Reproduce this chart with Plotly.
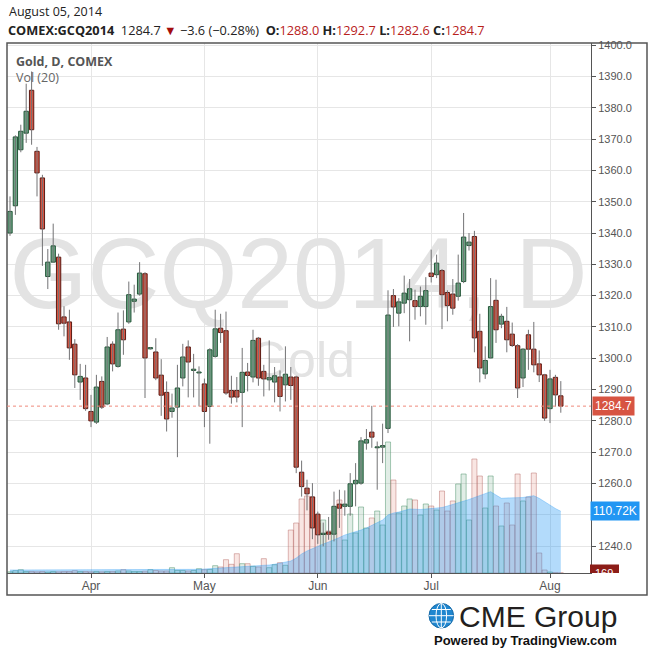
import plotly.graph_objects as go

# trading days shown (COMEX, Mar 11 - Aug 5 2014)
MAR = [11, 12, 13, 14, 17, 18, 19, 20, 21, 24, 25, 26, 27, 28, 31]
APR = [1, 2, 3, 4, 7, 8, 9, 10, 11, 14, 15, 16, 17, 21, 22, 23, 24, 25, 28, 29, 30]
MAY = [1, 2, 5, 6, 7, 8, 9, 12, 13, 14, 15, 16, 19, 20, 21, 22, 23, 27, 28, 29, 30]
JUN = [2, 3, 4, 5, 6, 9, 10, 11, 12, 13, 16, 17, 18, 19, 20, 23, 24, 25, 26, 27, 30]
JUL = [1, 2, 3, 7, 8, 9, 10, 11, 14, 15, 16, 17, 18, 21, 22, 23, 24, 25, 28, 29, 30, 31]
AUG = [1, 4, 5]

dates = (["2014-03-%02d" % d for d in MAR] + ["2014-04-%02d" % d for d in APR]
         + ["2014-05-%02d" % d for d in MAY] + ["2014-06-%02d" % d for d in JUN]
         + ["2014-07-%02d" % d for d in JUL] + ["2014-08-%02d" % d for d in AUG])

month_ticks = ["2014-04-01", "2014-05-01", "2014-06-02", "2014-07-01", "2014-08-01"]
month_labels = ["Apr", "May", "Jun", "Jul", "Aug"]

# price ticks; the 1250 label sits under the volume tag
price_ticks = [1240, 1250, 1260, 1270, 1280, 1290, 1300, 1310, 1320, 1330,
               1340, 1350, 1360, 1370, 1380, 1390, 1400]
price_labels = ["" if p == 1250 else f"{p:.1f}" for p in price_ticks]

opens = [1340.0, 1348.7, 1366.6, 1371.9, 1385.6, 1366.1, 1357.6, 1326.1, 1330.7, 1332.3,
         1313.2, 1311.6, 1304.5, 1292.4, 1293.7, 1283.0, 1279.6, 1292.6, 1285.4, 1304.5,
         1297.4, 1309.3, 1311.6, 1318.2, 1320.5, 1327.0, 1303.0, 1302.0, 1294.6, 1289.1,
         1283.0, 1284.4, 1293.7, 1303.6, 1296.1, 1295.3, 1291.8, 1284.6, 1300.6, 1309.6,
         1308.8, 1289.7, 1289.7, 1289.1, 1295.6, 1294.0, 1306.4, 1295.8, 1293.1, 1292.4,
         1294.0, 1291.5, 1294.0, 1294.0, 1263.6, 1258.5, 1255.7, 1250.2, 1243.7, 1244.5,
         1243.8, 1253.4, 1252.7, 1252.7, 1259.9, 1260.1, 1272.9, 1276.4, 1271.4, 1271.6,
         1277.6, 1320.0, 1314.4, 1317.6, 1318.7, 1318.4, 1316.5, 1316.5, 1327.2, 1326.7,
         1328.0, 1321.0, 1320.5, 1319.8, 1324.5, 1336.0, 1338.9, 1308.6, 1295.0, 1300.1,
         1318.5, 1310.9, 1311.8, 1307.7, 1304.0, 1293.7, 1307.5, 1302.9, 1298.2, 1294.7,
         1283.9, 1293.9, 1288.0]
highs = [1351.7, 1371.2, 1374.6, 1387.7, 1391.6, 1367.5, 1358.6, 1334.9, 1343.0, 1333.4,
         1316.6, 1315.5, 1306.1, 1298.2, 1297.9, 1288.3, 1294.7, 1294.2, 1306.8, 1305.4,
         1314.6, 1315.3, 1324.5, 1323.5, 1330.7, 1327.5, 1303.6, 1306.4, 1299.7, 1292.6,
         1288.7, 1297.9, 1304.6, 1305.7, 1301.4, 1297.4, 1293.5, 1303.2, 1315.5, 1314.2,
         1314.9, 1294.4, 1294.0, 1303.3, 1298.5, 1309.1, 1306.8, 1297.9, 1305.7, 1297.2,
         1296.1, 1303.8, 1297.2, 1294.4, 1267.3, 1261.2, 1260.1, 1251.0, 1247.5, 1249.3,
         1257.4, 1258.0, 1257.8, 1263.3, 1266.5, 1274.8, 1277.4, 1284.8, 1273.4, 1279.1,
         1321.7, 1322.1, 1319.2, 1326.4, 1325.3, 1321.9, 1322.9, 1325.9, 1334.7, 1333.1,
         1328.5, 1321.7, 1325.3, 1333.1, 1346.4, 1340.0, 1340.7, 1314.2, 1303.8, 1325.6,
         1325.1, 1314.2, 1316.4, 1311.4, 1304.5, 1303.2, 1309.1, 1311.6, 1302.5, 1295.0,
         1296.3, 1294.7, 1292.7]
lows = [1339.1, 1345.8, 1365.8, 1368.8, 1368.2, 1351.7, 1329.5, 1322.1, 1330.5, 1309.1,
        1307.0, 1299.5, 1290.5, 1286.7, 1283.2, 1278.0, 1279.0, 1283.8, 1285.0, 1295.8,
        1297.0, 1301.1, 1311.0, 1314.6, 1320.0, 1287.3, 1302.8, 1293.0, 1281.6, 1276.6,
        1281.0, 1268.4, 1291.0, 1287.5, 1287.5, 1284.6, 1278.0, 1272.7, 1300.2, 1304.9,
        1288.3, 1285.5, 1285.9, 1278.0, 1289.4, 1292.3, 1291.2, 1287.8, 1289.7, 1285.9,
        1283.0, 1286.2, 1286.7, 1263.3, 1255.8, 1251.4, 1242.2, 1240.7, 1239.9, 1242.0,
        1241.5, 1245.8, 1249.7, 1249.7, 1252.7, 1259.6, 1270.8, 1271.4, 1258.0, 1266.5,
        1276.1, 1310.0, 1310.2, 1314.4, 1305.4, 1312.3, 1313.4, 1310.7, 1324.2, 1325.6,
        1309.3, 1311.8, 1313.9, 1318.4, 1324.0, 1334.4, 1301.9, 1292.3, 1293.4, 1300.0,
        1304.9, 1309.6, 1301.9, 1303.6, 1287.3, 1290.8, 1296.3, 1295.5, 1292.4, 1280.0,
        1279.3, 1284.6, 1282.6]
closes = [1346.9, 1370.7, 1372.5, 1378.9, 1373.0, 1359.2, 1341.3, 1330.7, 1335.9, 1311.0,
          1311.2, 1303.3, 1294.7, 1294.2, 1283.9, 1280.0, 1290.8, 1284.4, 1303.6, 1298.2,
          1309.1, 1305.9, 1320.3, 1318.9, 1327.2, 1300.1, 1303.4, 1293.7, 1288.2, 1280.6,
          1284.1, 1290.5, 1300.4, 1298.8, 1296.5, 1295.6, 1283.0, 1302.7, 1309.4, 1308.2,
          1288.9, 1287.6, 1287.6, 1295.5, 1294.5, 1305.7, 1293.7, 1293.4, 1293.8, 1294.4,
          1287.8, 1294.9, 1291.3, 1265.2, 1259.0, 1256.7, 1245.8, 1243.6, 1244.1, 1243.8,
          1252.7, 1252.1, 1253.4, 1259.9, 1261.0, 1273.6, 1274.0, 1274.8, 1271.7, 1272.1,
          1313.8, 1316.4, 1318.0, 1320.8, 1322.2, 1316.5, 1319.8, 1321.6, 1326.1, 1330.4,
          1320.3, 1316.8, 1316.0, 1324.0, 1338.7, 1337.1, 1306.5, 1296.9, 1299.3, 1316.5,
          1309.1, 1313.4, 1305.9, 1304.1, 1290.5, 1302.9, 1302.9, 1297.9, 1294.7, 1280.9,
          1293.4, 1288.3, 1284.7]

volumes = [2300, 4100, 5900, 2700, 2700, 2200, 2700, 1800, 2700, 2200,
           2700, 2700, 4100, 2700, 2700, 2200, 2700, 2200, 2700, 2700,
           3600, 5900, 3600, 2700, 2700, 3200, 5900, 4500, 3600, 3600,
           9500, 4500, 4500, 3600, 4500, 7700, 5900, 6300, 13100, 10800,
           23900, 15600, 34600, 16700, 16700, 12000, 10800, 25700, 9500, 14900,
           18500, 13800, 77100, 89700, 132800, 138100, 136300, 89700, 95100, 75400,
           71800, 131000, 59200, 105800, 71800, 118400, 80700, 98700, 111200, 86100,
           235000, 166800, 107600, 120200, 132800, 131000, 104000, 123800, 120200, 113000,
           147100, 111200, 129200, 159700, 177600, 95100, 204500, 174000, 116600, 174000,
           120200, 84300, 125600, 86100, 177600, 129200, 136300, 179400, 35900, 5400,
           1800, 500, 169]
vol_ma = [5400, 5400, 5400, 5400, 5400, 5400, 5400, 5400, 5400, 5400,
          5700, 5700, 5700, 5700, 5700, 5700, 5700, 5700, 5700, 5700,
          6100, 6100, 6100, 6100, 6100, 6100, 6100, 6100, 6100, 6100,
          6600, 6600, 6600, 6600, 6600, 6600, 7200, 7700, 8400, 9200,
          9900, 10400, 11100, 11700, 12200, 12600, 13100, 13800, 14400, 15800,
          17400, 18800, 21500, 26900, 34100, 39500, 44000, 48400, 52000, 55600,
          59200, 63700, 68200, 70900, 73600, 77100, 80700, 85200, 89700, 95100,
          104100, 107600, 109400, 112100, 114800, 114500, 113900, 114800, 116100, 116600,
          117500, 120200, 122900, 125600, 128300, 131900, 135500, 139000, 143000, 145900,
          139900, 134000, 134600, 134600, 135100, 135500, 137200, 138700, 134000, 127400,
          122000, 115700, 110720]

UP_FILL, UP_LINE = "#6ba583", "#225437"
DOWN_FILL, DOWN_LINE = "#d75442", "#5b1a13"
WICK = "#737375"
GRID = "#e6e6e6"
AXIS = "#555555"
BASE_FONT = "Liberation Sans, Arial, sans-serif"
HEAD_FONT = "Open Sans, sans-serif"

# plot box in pixels
L, R, T, B = 7, 591, 43, 573


def px_x(x):
    return (x - L) / (R - L)


def px_y(y):
    return (B - y) / (B - T)


up = [c >= o for o, c in zip(opens, closes)]
body_lo = [min(o, c) for o, c in zip(opens, closes)]
body_h = [max(abs(c - o), 0.3) for o, c in zip(opens, closes)]

wick_x, wick_y = [], []
for d, h, l in zip(dates, highs, lows):
    wick_x += [d, d, None]
    wick_y += [l, h, None]

fig = go.Figure()

# watermark (main hidden axes, drawn under everything)
fig.add_trace(go.Scatter(
    x=[px_x(298.5), px_x(302)], y=[px_y(283), px_y(364)], mode="text",
    text=["GCQ2014, D", "Gold"],
    textfont=dict(family=BASE_FONT, size=[100, 50], color="#e3e3e3"),
    hoverinfo="skip", xaxis="x", yaxis="y",
))

fig.add_trace(go.Bar(
    x=dates, y=volumes, xaxis="x2", yaxis="y2", width=0.94,
    marker=dict(
        color=["rgba(107,165,131,0.2)" if u else "rgba(215,84,66,0.15)" for u in up],
        line=dict(color=["rgba(80,150,110,0.5)" if u else "rgba(180,100,95,0.45)" for u in up], width=1),
    ),
    hoverinfo="skip",
))
fig.add_trace(go.Scatter(
    x=dates, y=vol_ma, xaxis="x2", yaxis="y2", mode="lines",
    line=dict(color="rgba(33,150,243,0.3)", width=1),
    fill="tozeroy", fillcolor="rgba(33,150,243,0.34)", hoverinfo="skip",
))

fig.add_trace(go.Scatter(
    x=wick_x, y=wick_y, xaxis="x2", yaxis="y3", mode="lines",
    line=dict(color=WICK, width=1), hoverinfo="skip",
))
fig.add_trace(go.Bar(
    x=dates, y=body_h, base=body_lo, xaxis="x2", yaxis="y3", width=0.8,
    marker=dict(
        color=[UP_FILL if u else DOWN_FILL for u in up],
        line=dict(color=[UP_LINE if u else DOWN_LINE for u in up], width=1),
    ),
    hoverinfo="skip",
))

last_o, last_h, last_l, last_c = opens[-1], highs[-1], lows[-1], closes[-1]
chg = last_c - closes[-2]
pct = chg / closes[-2] * 100
red = "#b8211b"
sp = "\u00a0"
header = (
    f"<b>COMEX:GCQ2014</b>{sp}{sp}{last_c:.1f}{sp}<span style='color:#a30d0d'>▼</span>{sp}"
    f"\u2212{abs(chg):.1f}{sp}(\u2212{abs(pct):.2f}%){sp}{sp}"
    f"<b>O:</b><span style='color:{red}'>{last_o:.1f}</span>{sp}"
    f"<b>H:</b><span style='color:{red}'>{last_h:.1f}</span>{sp}"
    f"<b>L:</b><span style='color:{red}'>{last_l:.1f}</span>{sp}"
    f"<b>C:</b><span style='color:{red}'>{last_c:.1f}</span>"
)

annotations = [
    dict(text="August 05, 2014", x=px_x(7), y=px_y(12), font=dict(family=HEAD_FONT, size=12.5, color="#222")),
    dict(text=header, x=px_x(6), y=px_y(30), font=dict(family=HEAD_FONT, size=12.75, color="#222")),
    dict(text="<b>Gold, D, COMEX</b>", x=px_x(14), y=px_y(61), font=dict(family=HEAD_FONT, size=12.5, color="#555")),
    dict(text="Vol (20)", x=px_x(14), y=px_y(77), font=dict(family=HEAD_FONT, size=12.5, color="#666")),
    dict(text="CME Group", x=px_x(457), y=px_y(616), font=dict(family=BASE_FONT, size=30, color="#231f20")),
    dict(text="<b>Powered by TradingView.com</b>", x=px_x(432), y=px_y(640),
         font=dict(family=BASE_FONT, size=13, color="#111")),
]
for a in annotations:
    a.update(xref="paper", yref="paper", xanchor="left", yanchor="middle", showarrow=False)

annotations += [
    dict(text=f"{last_c:.1f}", xref="paper", x=1.0, yref="y3", y=last_c, xanchor="left",
         yanchor="middle", showarrow=False, bgcolor=DOWN_FILL, borderpad=2, xshift=1,
         font=dict(family=BASE_FONT, size=12, color="white")),
    dict(text=f"{vol_ma[-1] / 1000:.2f}K", xref="paper", x=1.0, yref="y2", y=vol_ma[-1],
         xanchor="left", yanchor="middle", showarrow=False, bgcolor="#2196f3", borderpad=2,
         xshift=-1, font=dict(family=BASE_FONT, size=12, color="white")),
    dict(text=str(volumes[-1]), xref="paper", x=px_x(604), yref="paper", y=px_y(573),
         xanchor="center", yanchor="middle", showarrow=False,
         font=dict(family=BASE_FONT, size=11, color="white")),
]

shapes = [
    # outer frame
    dict(type="rect", xref="paper", yref="paper", x0=px_x(7), x1=px_x(647), y0=px_y(595), y1=px_y(43),
         line=dict(color=AXIS, width=1.5), layer="above"),
    # last price line
    dict(type="line", xref="paper", yref="y3", x0=0, x1=1, y0=last_c, y1=last_c,
         line=dict(color="#ef8a7c", width=1, dash="dot"), layer="above"),
    # last volume tag (clipped at axis)
    dict(type="rect", xref="paper", yref="paper", x0=px_x(590), x1=px_x(619), y0=px_y(573), y1=px_y(564.5),
         fillcolor="#8c1d18", line=dict(width=0), layer="above"),
    # globe
    dict(type="circle", xref="paper", yref="paper", x0=px_x(429), x1=px_x(453.6), y0=px_y(628), y1=px_y(603.4),
         fillcolor="#1f86cf", line=dict(color="#156aa8", width=1)),
    dict(type="circle", xref="paper", yref="paper", x0=px_x(436), x1=px_x(446.6), y0=px_y(628), y1=px_y(603.4),
         line=dict(color="white", width=1)),
    dict(type="line", xref="paper", yref="paper", x0=px_x(441.3), x1=px_x(441.3), y0=px_y(628), y1=px_y(603.4),
         line=dict(color="white", width=1)),
]
for yy, half in [(609.5, 9.5), (615.7, 12.3), (622, 9.5)]:
    shapes.append(dict(type="line", xref="paper", yref="paper", x0=px_x(441.3 - half), x1=px_x(441.3 + half),
                       y0=px_y(yy), y1=px_y(yy), line=dict(color="white", width=1)))

fig.update_layout(
    width=650, height=652,
    margin=dict(l=L, r=650 - R, t=T, b=652 - B),
    paper_bgcolor="white", plot_bgcolor="white",
    showlegend=False, hovermode=False, barmode="overlay",
    xaxis=dict(range=[0, 1], visible=False),
    yaxis=dict(range=[0, 1], visible=False),
    xaxis2=dict(
        type="category", overlaying="x", range=[-0.556, 107.59],
        tickmode="array", tickvals=month_ticks, ticktext=month_labels,
        ticks="outside", ticklen=4, tickcolor=AXIS, showline=True, linecolor=AXIS, linewidth=1,
        showgrid=True, gridcolor=GRID, zeroline=False, ticklabelstandoff=-2,
        tickfont=dict(family=BASE_FONT, size=12, color="#555"),
    ),
    yaxis2=dict(overlaying="y", range=[0, 950820], visible=False),
    yaxis3=dict(
        overlaying="y", side="right", range=[1231.4, 1400.7],
        tickmode="array", tickvals=price_ticks, ticktext=price_labels,
        ticks="outside", ticklen=4, tickcolor=AXIS, showline=True, linecolor=AXIS, linewidth=1,
        showgrid=True, gridcolor=GRID, zeroline=False,
        tickfont=dict(family=BASE_FONT, size=11, color="#555"),
    ),
    annotations=annotations,
    shapes=shapes,
)

fig.write_html(
    "out.html",
    config={"displayModeBar": False},
    post_script="document.body.style.margin='0px';document.body.style.overflow='hidden';",
)
